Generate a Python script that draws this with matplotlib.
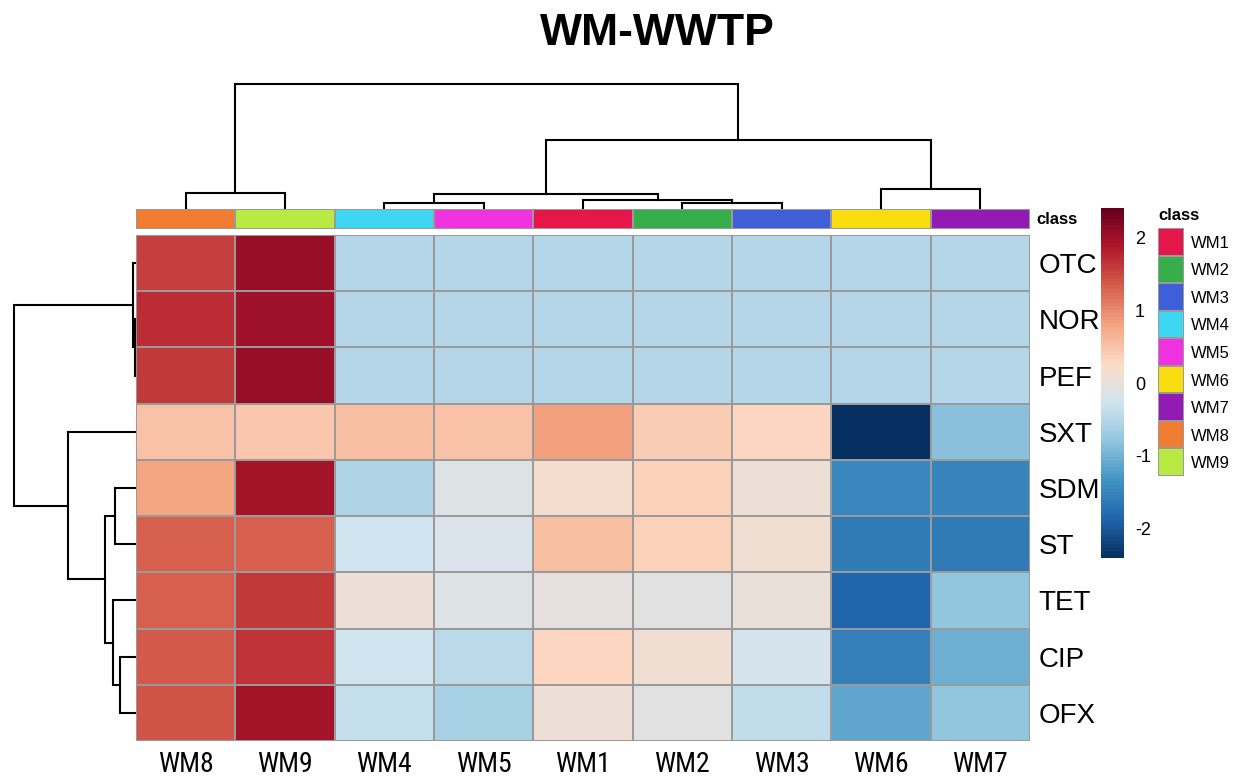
import matplotlib
matplotlib.use("Agg")
import matplotlib.pyplot as plt
import numpy as np
from matplotlib.colors import LinearSegmentedColormap, ListedColormap

plt.rcParams["axes.unicode_minus"] = False

# column / row order as displayed after clustering
samples = ["WM8", "WM9", "WM4", "WM5", "WM1", "WM2", "WM3", "WM6", "WM7"]
genes = ["OTC", "NOR", "PEF", "SXT", "SDM", "ST", "TET", "CIP", "OFX"]

# row-scaled values (z-scores), one list per gene, columns follow `samples`
otc = [1.55, 2.05, -0.52, -0.52, -0.52, -0.52, -0.52, -0.52, -0.52]
nor = [1.68, 1.98, -0.52, -0.52, -0.52, -0.52, -0.52, -0.52, -0.52]
pef = [1.62, 2.03, -0.52, -0.52, -0.52, -0.52, -0.52, -0.52, -0.52]
sxt = [0.50, 0.44, 0.55, 0.48, 0.86, 0.42, 0.30, -2.40, -0.82]
sdm = [0.80, 1.95, -0.55, -0.10, 0.15, 0.36, 0.06, -1.45, -1.52]
st = [1.33, 1.31, -0.25, -0.15, 0.55, 0.35, 0.10, -1.60, -1.63]
tet = [1.30, 1.60, 0.05, -0.10, -0.02, -0.06, 0.00, -1.85, -0.78]
cip = [1.38, 1.66, -0.28, -0.45, 0.30, 0.12, -0.22, -1.55, -1.05]
ofx = [1.40, 1.92, -0.38, -0.60, 0.05, -0.08, -0.42, -1.15, -0.80]

# class annotation
class_names = ["WM1", "WM2", "WM3", "WM4", "WM5", "WM6", "WM7", "WM8", "WM9"]
class_colors = ["#E5164A", "#37AE49", "#3F5FD9", "#3ED6F0", "#F031E0",
                "#FADD0E", "#921BB3", "#F27D31", "#B8EA43"]

# hierarchical clustering merges: (left id, right id, height); ids < 9 are leaves
col_merges = [(5, 6, 0.15), (2, 3, 0.15), (4, 9, 0.25), (10, 11, 0.42),
              (0, 1, 0.45), (7, 8, 0.58), (12, 14, 2.05), (13, 15, 3.73)]
row_merges = [(1, 2, 0.01), (0, 9, 0.05), (7, 8, 0.45), (4, 5, 0.60),
              (6, 11, 0.65), (12, 13, 0.90), (3, 14, 2.00), (10, 15, 3.63)]

data = np.array([otc, nor, pef, sxt, sdm, st, tet, cip, ofx])
n_rows, n_cols = data.shape

rdbu10 = ["#67001f", "#b2182b", "#d6604d", "#f4a582", "#fddbc7",
          "#d1e5f0", "#92c5de", "#4393c3", "#2166ac", "#053061"]
cmap = LinearSegmentedColormap.from_list("rdbu_r", rdbu10[::-1], N=100)
vmin, vmax = -2.4, 2.4
grid = "#9a9a9a"

sans = ["Liberation Sans", "Arimo", "DejaVu Sans"]
narrow = ["Liberation Sans Narrow", "Roboto Condensed", "PT Sans Narrow",
          "Archivo Narrow", "Liberation Sans", "DejaVu Sans"]

W, H = 1251, 780


def box(x0, y0, x1, y1):
    """pixel box (top-left origin) -> figure fraction rect"""
    return [x0 / W, 1 - y1 / H, (x1 - x0) / W, (y1 - y0) / H]


def dendro_segments(merges, n):
    pos = [i + 0.5 for i in range(n)]
    hgt = [0.0] * n
    segs = []
    for a, b, h in merges:
        segs.append(([pos[a], pos[a], pos[b], pos[b]], [hgt[a], h, h, hgt[b]]))
        pos.append((pos[a] + pos[b]) / 2)
        hgt.append(h)
    return segs, max(hgt)


fig = plt.figure(figsize=(12.51, 7.80), dpi=100)

# heatmap
ax = fig.add_axes(box(136, 235, 1030, 741))
mesh = ax.pcolormesh(data, cmap=cmap, vmin=vmin, vmax=vmax,
                     edgecolors=grid, linewidth=1.2)
ax.set_xlim(0, n_cols)
ax.set_ylim(n_rows, 0)
ax.yaxis.tick_right()
ax.set_yticks(np.arange(n_rows) + 0.5)
ax.set_yticklabels(genes, fontsize=20, family=sans)
ax.set_xticks(np.arange(n_cols) + 0.5)
ax.set_xticklabels(samples, fontsize=20, family=narrow)
ax.tick_params(length=0)
ax.tick_params(axis="y", pad=6)
ax.tick_params(axis="x", pad=7)
for s in ax.spines.values():
    s.set_visible(False)

# class annotation bar
ax_cls = fig.add_axes(box(136, 209, 1030, 229))
col_class = [[class_names.index(s) for s in samples]]
ax_cls.pcolormesh(col_class, cmap=ListedColormap(class_colors), vmin=-0.5,
                  vmax=len(class_names) - 0.5, edgecolors=grid, linewidth=1.2)
ax_cls.set_xlim(0, n_cols)
ax_cls.axis("off")
ax_cls.text(1.007, 0.5, "class", transform=ax_cls.transAxes, ha="left",
            va="center", fontsize=12, fontweight="bold", family=sans)

# column dendrogram
ax_top = fig.add_axes(box(136, 84, 1030, 208))
segs, hmax = dendro_segments(col_merges, n_cols)
for xs, ys in segs:
    ax_top.plot(xs, ys, color="black", lw=1.5, clip_on=False,
                solid_joinstyle="miter")
ax_top.set_xlim(0, n_cols)
ax_top.set_ylim(0, hmax)
ax_top.axis("off")

# row dendrogram
ax_left = fig.add_axes(box(14, 235, 135, 741))
segs, hmax = dendro_segments(row_merges, n_rows)
for ys, xs in segs:
    ax_left.plot(xs, ys, color="black", lw=1.5, clip_on=False,
                 solid_joinstyle="miter")
ax_left.set_xlim(hmax, 0)
ax_left.set_ylim(n_rows, 0)
ax_left.axis("off")

# colour scale
cax = fig.add_axes(box(1101, 208, 1124, 558))
cb = fig.colorbar(mesh, cax=cax, ticks=[-2, -1, 0, 1, 2])
cb.outline.set_visible(False)
cb.ax.tick_params(length=0, labelsize=13, pad=8)
for t in cb.ax.get_yticklabels():
    t.set_family(sans)

# class legend
ax_leg = fig.add_axes(box(1158, 228, 1184, 476))
ax_leg.pcolormesh(np.arange(len(class_names)).reshape(-1, 1),
                  cmap=ListedColormap(class_colors), vmin=-0.5,
                  vmax=len(class_names) - 0.5, edgecolors=grid, linewidth=1.2)
ax_leg.set_ylim(len(class_names), 0)
ax_leg.set_xlim(0, 1)
ax_leg.yaxis.tick_right()
ax_leg.set_yticks(np.arange(len(class_names)) + 0.5)
ax_leg.set_yticklabels(class_names, fontsize=12, family=sans)
ax_leg.set_xticks([])
ax_leg.tick_params(length=0, pad=5)
for s in ax_leg.spines.values():
    s.set_visible(False)
ax_leg.text(0.0, 1.02, "class", transform=ax_leg.transAxes, ha="left",
            va="bottom", fontsize=12, fontweight="bold", family=sans)

fig.text(0.5256, 0.957, "WM-WWTP", ha="center", va="center", fontsize=32,
         fontweight="bold", family=sans)

fig.savefig("out.png", dpi=100)
